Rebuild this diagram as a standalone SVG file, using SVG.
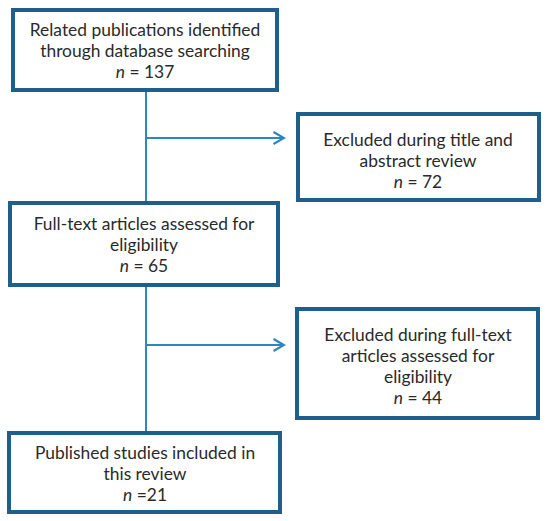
<svg xmlns="http://www.w3.org/2000/svg" width="550" height="521" viewBox="0 0 550 521">
<defs>
<style>
.box{fill:#fff;stroke:#1f5f8c;stroke-width:4}
.t{font-family:Lato,"Liberation Sans",sans-serif;font-size:17.4px;fill:#2a2a2a;text-anchor:middle}
.c{fill:none;stroke:#2e86c1;stroke-width:2}
</style>
<marker id="ah" viewBox="0 0 14 14" refX="12.5" refY="7" markerWidth="14" markerHeight="14" markerUnits="userSpaceOnUse" orient="auto">
<path d="M2,1 L12.5,7 L2,13" fill="none" stroke="#2e86c1" stroke-width="2.2"/>
</marker>
</defs>
<rect width="550" height="521" fill="#fff"/>
<g id="connectors">
<line class="c" x1="146" y1="91" x2="146" y2="203"/>
<line class="c" x1="146" y1="285" x2="146" y2="433"/>
<line class="c" x1="146" y1="138" x2="284" y2="138" marker-end="url(#ah)"/>
<line class="c" x1="146" y1="345" x2="284" y2="345" marker-end="url(#ah)"/>
</g>
<g id="n1">
<rect class="box" x="13" y="10" width="264" height="80"/>
<text class="t" x="145" y="36">Related publications identified</text>
<text class="t" x="145" y="57">through database searching</text>
<text class="t" x="145" y="78"><tspan font-style="italic">n</tspan> = 137</text>
</g>
<g id="n2">
<rect class="box" x="298" y="114" width="241" height="86"/>
<text class="t" x="418" y="146">Excluded during title and</text>
<text class="t" x="418" y="167">abstract review</text>
<text class="t" x="418" y="188"><tspan font-style="italic">n</tspan> = 72</text>
</g>
<g id="n3">
<rect class="box" x="10" y="203" width="268" height="82"/>
<text class="t" x="144" y="230">Full-text articles assessed for</text>
<text class="t" x="144" y="251">eligibility</text>
<text class="t" x="144" y="272"><tspan font-style="italic">n</tspan> = 65</text>
</g>
<g id="n4">
<rect class="box" x="297" y="309" width="241" height="109"/>
<text class="t" x="418" y="341">Excluded during full-text</text>
<text class="t" x="418" y="362">articles assessed for</text>
<text class="t" x="418" y="383">eligibility</text>
<text class="t" x="418" y="404"><tspan font-style="italic">n</tspan> = 44</text>
</g>
<g id="n5">
<rect class="box" x="9" y="433" width="271" height="79"/>
<text class="t" x="145" y="459">Published studies included in</text>
<text class="t" x="145" y="480">this review</text>
<text class="t" x="145" y="501"><tspan font-style="italic">n</tspan> =21</text>
</g>
</svg>
